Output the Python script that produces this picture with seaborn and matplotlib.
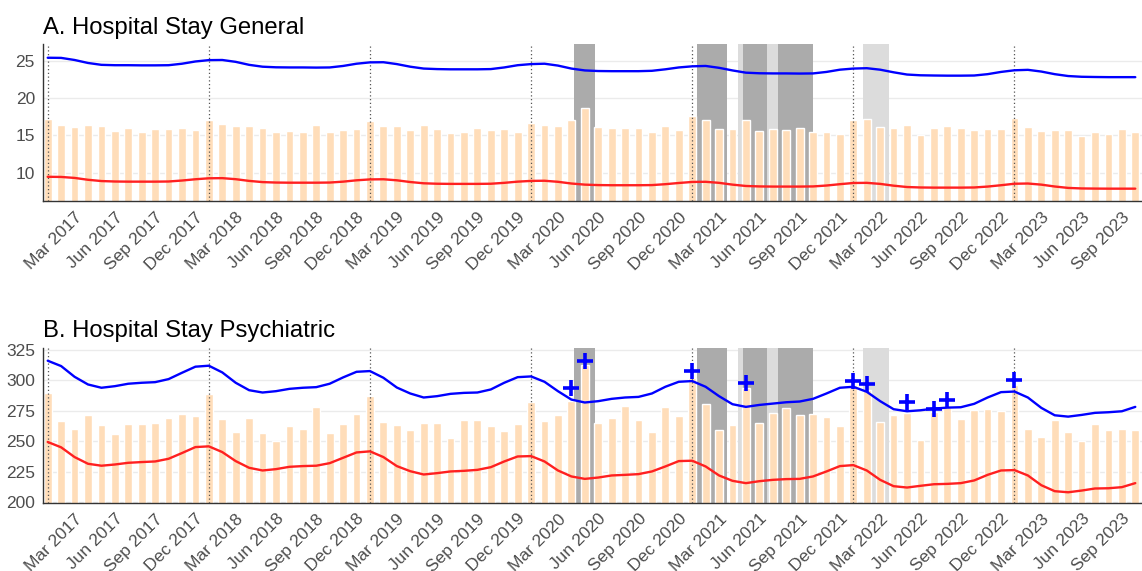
import numpy as np
import pandas as pd
import matplotlib
matplotlib.use("Agg")
import matplotlib.pyplot as plt
from matplotlib import transforms
import seaborn as sns

sns.set_theme(style="white")
plt.rcParams["font.family"] = ["Liberation Sans", "DejaVu Sans"]

# ---------------------------------------------------------------- data
first_month = "2017-01-01"
last_month = "2023-10-01"

general_stays = [
    17.19, 16.40, 16.18, 16.40, 16.32, 15.61, 16.05, 15.48, 15.92, 15.92, 16.01, 15.70,
    17.11, 16.58, 16.32, 16.32, 16.01, 15.48, 15.61, 15.39, 16.40, 15.48, 15.70, 15.79,
    16.93, 16.32, 16.32, 15.70, 16.36, 15.79, 15.35, 15.48, 16.01, 15.70, 15.79, 15.39,
    16.67, 16.40, 16.32, 17.11, 18.64, 16.10, 16.01, 16.01, 16.01, 15.48, 16.32, 15.70,
    17.63, 17.02, 15.79, 15.79, 17.02, 15.61, 15.79, 15.70, 16.01, 15.48, 15.48, 15.22,
    17.02, 17.24, 16.18, 16.01, 16.45, 15.09, 16.01, 16.32, 16.01, 15.70, 15.92, 15.79,
    17.37, 16.10, 15.61, 15.70, 15.70, 14.91, 15.39, 15.22, 15.79, 15.48,
]
general_upper = [
    25.40, 25.38, 25.10, 24.70, 24.45, 24.40, 24.40, 24.38, 24.38, 24.40, 24.60, 24.90,
    25.08, 25.10, 24.85, 24.45, 24.20, 24.12, 24.10, 24.10, 24.08, 24.10, 24.30, 24.60,
    24.78, 24.80, 24.55, 24.20, 23.95, 23.88, 23.85, 23.85, 23.85, 23.88, 24.10, 24.40,
    24.55, 24.60, 24.35, 23.95, 23.70, 23.62, 23.60, 23.60, 23.60, 23.65, 23.85, 24.10,
    24.25, 24.30, 24.05, 23.70, 23.40, 23.32, 23.30, 23.30, 23.28, 23.30, 23.50, 23.80,
    23.95, 24.00, 23.80, 23.45, 23.15, 23.05, 23.02, 23.00, 23.00, 23.02, 23.20, 23.50,
    23.72, 23.78, 23.55, 23.20, 22.95, 22.85, 22.82, 22.80, 22.80, 22.80,
]
general_lower = [
    9.45, 9.43, 9.30, 9.05, 8.88, 8.82, 8.80, 8.80, 8.80, 8.82, 8.95, 9.12,
    9.25, 9.27, 9.13, 8.90, 8.74, 8.68, 8.66, 8.66, 8.66, 8.68, 8.80, 8.98,
    9.10, 9.12, 8.98, 8.75, 8.58, 8.52, 8.50, 8.50, 8.50, 8.52, 8.64, 8.80,
    8.90, 8.92, 8.78, 8.55, 8.40, 8.34, 8.32, 8.32, 8.32, 8.34, 8.46, 8.62,
    8.76, 8.78, 8.64, 8.40, 8.22, 8.16, 8.14, 8.14, 8.14, 8.16, 8.28, 8.46,
    8.62, 8.64, 8.50, 8.26, 8.08, 8.02, 8.00, 8.00, 8.00, 8.02, 8.14, 8.32,
    8.52, 8.55, 8.40, 8.15, 7.96, 7.89, 7.87, 7.86, 7.86, 7.86,
]

psych_stays = [
    289.8, 267.0, 259.9, 272.0, 263.5, 256.3, 264.6, 264.3, 265.4, 269.2, 272.5, 271.2,
    289.0, 268.1, 258.0, 269.5, 257.1, 250.3, 262.4, 260.4, 278.6, 256.6, 264.3, 272.3,
    287.4, 265.9, 263.5, 259.1, 265.4, 265.1, 252.7, 267.9, 267.9, 262.4, 258.5, 264.6,
    282.4, 266.8, 271.7, 283.0, 312.5, 265.1, 269.5, 278.8, 267.3, 257.4, 278.6, 270.6,
    302.0, 281.0, 259.1, 263.2, 293.4, 265.1, 273.1, 277.7, 272.0, 272.5, 270.3, 262.9,
    296.0, 292.0, 265.7, 271.4, 273.4, 251.4, 274.2, 278.3, 268.4, 275.5, 276.9, 274.7,
    296.2, 259.9, 253.6, 267.6, 258.0, 250.0, 264.0, 259.3, 260.4, 259.6,
]
psych_upper = [
    316.2, 311.8, 303.0, 296.7, 294.0, 295.3, 297.3, 298.1, 298.6, 301.1, 306.3, 311.3,
    312.1, 306.6, 298.1, 292.0, 290.1, 291.2, 293.1, 294.0, 294.5, 297.3, 302.5, 307.1,
    307.7, 302.2, 294.2, 289.3, 286.0, 287.1, 289.0, 289.8, 290.1, 292.6, 298.1, 302.7,
    303.3, 298.9, 291.2, 284.3, 281.9, 283.0, 284.9, 286.0, 286.5, 289.3, 294.8, 298.9,
    299.5, 294.8, 287.1, 280.5, 278.3, 279.9, 281.0, 282.1, 282.7, 284.9, 289.3, 294.0,
    294.8, 290.7, 283.0, 276.4, 274.7, 275.5, 276.9, 277.7, 278.0, 280.8, 286.0, 290.4,
    290.9, 286.0, 277.5, 271.4, 270.3, 271.7, 273.4, 273.9, 274.7, 278.3,
]
psych_lower = [
    249.5, 245.1, 237.1, 231.6, 230.0, 231.0, 232.4, 233.0, 233.5, 235.7, 240.4, 245.3,
    245.9, 241.2, 233.8, 228.3, 226.1, 227.2, 229.1, 229.7, 230.0, 232.1, 236.5, 240.9,
    241.8, 237.1, 229.7, 225.5, 222.8, 223.9, 225.3, 225.8, 226.6, 228.8, 233.5, 237.6,
    237.9, 233.5, 226.1, 221.2, 219.2, 220.3, 222.0, 222.5, 223.1, 225.3, 229.4, 233.8,
    234.1, 229.4, 222.0, 217.6, 215.7, 217.3, 218.4, 219.0, 219.2, 221.2, 225.3, 229.7,
    230.5, 226.1, 218.4, 213.2, 212.1, 213.5, 214.8, 215.1, 215.7, 217.9, 222.5, 226.1,
    226.4, 222.0, 214.0, 209.1, 208.2, 209.6, 211.3, 211.5, 212.4, 215.7,
]

# months where psychiatric stays rose above the expected band
psych_flag_months = ["2020-04", "2020-05", "2021-01", "2021-05", "2022-01",
                     "2022-02", "2022-05", "2022-07", "2022-08", "2023-01"]
psych_flag_values = [294.0, 316.2, 307.7, 298.1, 299.8,
                     296.7, 281.9, 276.9, 283.8, 300.3]

# restriction periods (light) and lockdown periods (dark)
light_periods = [("2021-04-13", "2021-07-13"), ("2022-01-23", "2022-03-21")]
dark_periods = [("2020-04-08", "2020-05-24"), ("2021-01-11", "2021-03-20"),
                ("2021-04-25", "2021-06-18"), ("2021-07-13", "2021-10-01")]

year_starts = ["2017-01-01", "2018-01-01", "2019-01-01", "2020-01-01",
               "2021-01-01", "2022-01-01", "2023-01-01"]

tick_labels = [
    "Mar 2017", "Jun 2017", "Sep 2017", "Dec 2017",
    "Mar 2018", "Jun 2018", "Sep 2018", "Dec 2018",
    "Mar 2019", "Jun 2019", "Sep 2019", "Dec 2019",
    "Mar 2020", "Jun 2020", "Sep 2020", "Dec 2020",
    "Mar 2021", "Jun 2021", "Sep 2021", "Dec 2021",
    "Mar 2022", "Jun 2022", "Sep 2022", "Dec 2022",
    "Mar 2023", "Jun 2023", "Sep 2023",
]

# ---------------------------------------------------------------- helpers
months = pd.date_range(first_month, last_month, freq="MS")
month_idx = np.arange(len(months))
origin = pd.Timestamp(first_month)


def month_pos(date):
    ts = pd.Timestamp(date)
    return ((ts.year - origin.year) * 12 + ts.month - origin.month
            + (ts.day - 1) / ts.days_in_month)


tick_pos = [month_pos(pd.to_datetime(lbl, format="%b %Y")) for lbl in tick_labels]

BAR = "#FFDDB9"
LIGHT = "#DCDCDC"
DARK = "#ABABAB"
TEXT = "#4D4D4D"
AXIS = "#333333"


def draw_panel(ax, stays, upper, lower, title, yticks, ylim,
               flag_months=None, flag_values=None):
    for a, b in light_periods:
        ax.axvspan(month_pos(a), month_pos(b), color=LIGHT, lw=0, zorder=1)
    for a, b in dark_periods:
        ax.axvspan(month_pos(a), month_pos(b), color=DARK, lw=0, zorder=1.1)

    df = pd.DataFrame({"m": month_idx, "v": stays})
    sns.barplot(data=df, x="m", y="v", native_scale=True, color=BAR,
                saturation=1, width=0.58, errorbar=None, ax=ax, zorder=2)

    for d in year_starts:
        ax.axvline(month_pos(d), color="#555555", lw=0.9,
                   ls=(0, (1, 2)), zorder=3)

    sns.lineplot(x=month_idx, y=upper, color="#0000FF", lw=1.7, ax=ax, zorder=4)
    sns.lineplot(x=month_idx, y=lower, color="#FF2020", lw=1.7, ax=ax, zorder=4)

    if flag_months is not None:
        fx = [month_pos(m + "-01") for m in flag_months]
        sns.scatterplot(x=fx, y=flag_values, marker="+", s=130, color="#0000FF",
                        linewidth=2.6, ax=ax, zorder=5)

    ax.set_xlim(-0.33, 81.5)
    ax.set_ylim(*ylim)
    ax.set_yticks(yticks)
    ax.set_xticks(tick_pos)
    ax.set_xticklabels(tick_labels, rotation=45, ha="right", va="top",
                       rotation_mode="anchor")
    shift = transforms.ScaledTranslation(0.06, 0, ax.figure.dpi_scale_trans)
    for lbl in ax.get_xticklabels():
        lbl.set_transform(lbl.get_transform() + shift)

    ax.set_xlabel("")
    ax.set_ylabel("")
    ax.yaxis.grid(True, color="#EBEBEB", lw=1.0, zorder=0)
    ax.xaxis.grid(False)
    ax.set_axisbelow(True)
    for side in ("top", "right"):
        ax.spines[side].set_visible(False)
    for side in ("left", "bottom"):
        ax.spines[side].set_color(AXIS)
        ax.spines[side].set_linewidth(1.0)
    ax.tick_params(axis="both", direction="out", length=4, width=1.0,
                   color=AXIS, labelcolor=TEXT, labelsize=12.5, pad=2)
    ax.set_title(title, loc="left", fontsize=17.2, color="black", pad=7.5)


fig = plt.figure(figsize=(11.42, 5.71), dpi=100)
ax_a = fig.add_axes([0.0379, 0.6475, 0.9621, 0.2749])
ax_b = fig.add_axes([0.0379, 0.1191, 0.9621, 0.2720])

draw_panel(ax_a, general_stays, general_upper, general_lower,
           "A. Hospital Stay General", [10, 15, 20, 25], (6.17, 27.2))
draw_panel(ax_b, psych_stays, psych_upper, psych_lower,
           "B. Hospital Stay Psychiatric", [200, 225, 250, 275, 300, 325],
           (199.4, 326.9), psych_flag_months, psych_flag_values)

fig.savefig("out.png", dpi=100)
